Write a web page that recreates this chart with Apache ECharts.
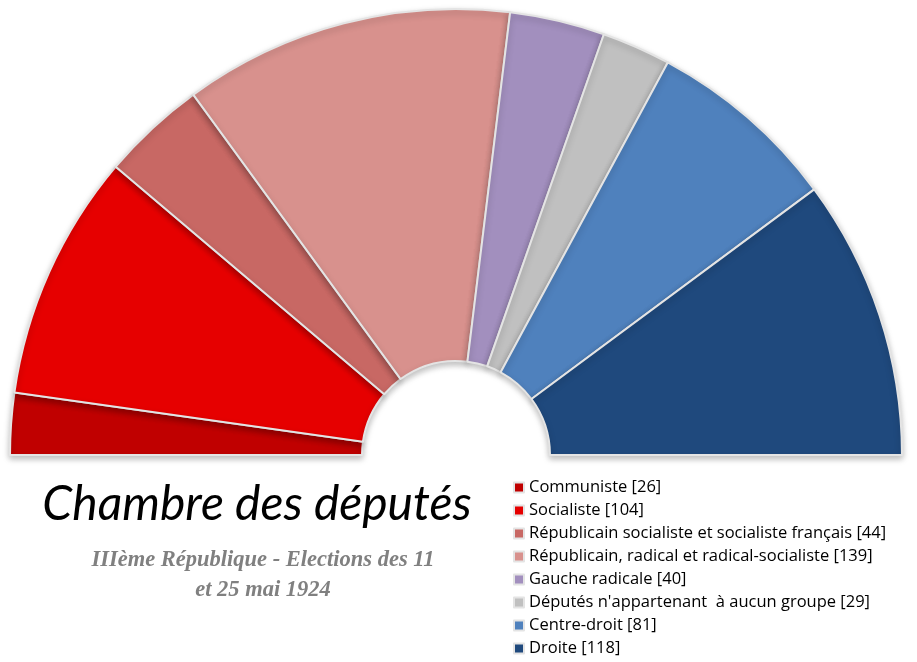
<!DOCTYPE html>
<html>
<head>
<meta charset="utf-8">
<script src="https://cdn.jsdelivr.net/npm/echarts@6/dist/echarts.min.js"></script>
<style>html,body{margin:0;padding:0;background:#fff}#c{width:917px;height:662px}</style>
</head>
<body>
<div id="c"></div>
<script>
const parties = ["Communiste","Socialiste","Républicain socialiste et socialiste français","Républicain, radical et radical-socialiste","Gauche radicale","Députés n'appartenant  à aucun groupe","Centre-droit","Droite"];
const seats = [26,104,44,139,40,29,81,118];
const colors = ["#c00000","#e60000","#c86864","#d8918d","#a28fbe","#c0c0c0","#4f81bd","#1f497d"];
const titleText = "Chambre des députés";
const subtitleLines = ["IIIème République - Elections des 11","et 25 mai 1924"];

const chart = echarts.init(document.getElementById('c'));
const data = parties.map((p,i)=>({name:p,value:seats[i],itemStyle:{color:colors[i]}}));
chart.setOption({
  animation:false,
  title:[
    {text:titleText,left:252,top:476,textAlign:'center',
     textStyle:{fontFamily:'Lato',fontStyle:'italic',fontWeight:'normal',fontSize:48,color:'#000'}},
    {text:subtitleLines.join('\n'),left:258,top:540,textAlign:'center',
     textStyle:{fontFamily:'Liberation Serif',fontStyle:'italic',fontWeight:'bold',fontSize:22.5,lineHeight:30,color:'#808080'}}
  ],
  legend:{
    orient:'vertical',left:508,top:474,height:200,itemWidth:10,itemHeight:10,itemGap:6,
    icon:'rect',
    formatter:name=>{const i=parties.indexOf(name);return name+' ['+seats[i]+']';},
    textStyle:{fontFamily:'Open Sans',fontSize:16.5,color:'#000',lineHeight:17},
    data:parties
  },
  series:[{
    type:'pie',
    center:[456,455],
    radius:[94,446],
    startAngle:180,endAngle:0,clockwise:true,
    label:{show:false},labelLine:{show:false},
    silent:true,
    itemStyle:{borderColor:'#e4e4e4',borderWidth:2,shadowBlur:6,shadowOffsetY:3,shadowColor:'rgba(0,0,0,0.25)'},
    data:data
  }]
});
</script>
</body>
</html>
